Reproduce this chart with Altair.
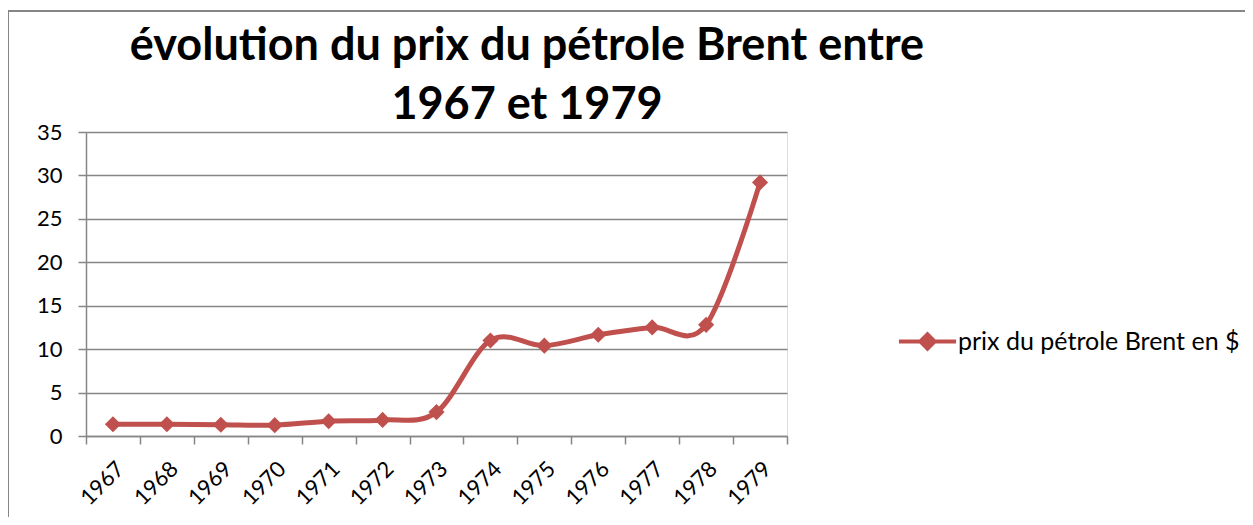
import altair as alt
import pandas as pd

years = ["1967", "1968", "1969", "1970", "1971", "1972", "1973",
         "1974", "1975", "1976", "1977", "1978", "1979"]
prices = [1.35, 1.35, 1.3, 1.25, 1.7, 1.85, 2.75,
          11.0, 10.4, 11.65, 12.5, 12.8, 29.2]
series_name = "prix du pétrole Brent en $"
title_lines = ["évolution du prix du pétrole Brent entre", "1967 et 1979"]

RED = "#C0504D"
GRAY = "#868686"
FONT = "Lato"

df = pd.DataFrame({"year": years, "price": prices, "serie": [series_name] * len(years)})

W, H = 701, 304
PAD_L, PAD_T, PAD_R, PAD_B = 78, 124, 458, 81

x_enc = alt.X("year:O", sort=years, title=None,
              scale=alt.Scale(type="band", paddingInner=0, paddingOuter=0),
              axis=alt.Axis(labelAngle=-45, labelFont=FONT, labelFontSize=22,
                            labelColor="#000000", tickBand="extent",
                            tickColor=GRAY, tickWidth=1.5, tickSize=8,
                            domainColor=GRAY, domainWidth=1.5, labelPadding=14,
                            grid=False))
y_enc = alt.Y("price:Q", title=None,
              scale=alt.Scale(domain=[0, 35], nice=False),
              axis=alt.Axis(values=[0, 5, 10, 15, 20, 25, 30, 35],
                            labelFont=FONT, labelFontSize=22, labelColor="#000000",
                            tickColor=GRAY, tickWidth=1.5, tickSize=8,
                            domainColor=GRAY, domainWidth=1.5, labelPadding=16,
                            grid=True, gridColor=GRAY, gridWidth=1.5))
color_enc = alt.Color("serie:N", title=None,
                      scale=alt.Scale(range=[RED]),
                      legend=alt.Legend(orient="none", legendX=813, legendY=181,
                                        labelFont=FONT, labelFontSize=25,
                                        labelColor="#000000", labelLimit=500,
                                        symbolType="M-1.08,0H1.08M-0.27,0L0,-0.27L0.27,0L0,0.27Z",
                                        symbolSize=2800, symbolStrokeWidth=4,
                                        symbolFillColor=RED, symbolStrokeColor=RED,
                                        labelOffset=2))

base = alt.Chart(df)
line = base.mark_line(interpolate="cardinal", tension=0, strokeWidth=5, color=RED).encode(
    x=x_enc, y=y_enc, color=color_enc)
pts = base.mark_point(shape="diamond", filled=True, size=260, opacity=1, color=RED).encode(
    x=x_enc, y=y_enc)

frame_df = pd.DataFrame({"k": [0]})
left_border = alt.Chart(frame_df).mark_rule(color=GRAY, strokeWidth=2, clip=False).encode(
    x=alt.value(-78), y=alt.value(-121), y2=alt.value(H + PAD_B))
top_border = alt.Chart(frame_df).mark_rule(color=GRAY, strokeWidth=2, clip=False).encode(
    x=alt.value(-78), x2=alt.value(W + PAD_R), y=alt.value(-121))
title_text = alt.Chart(frame_df).mark_text(
    font=FONT, fontSize=45, fontWeight="bold", color="#000000",
    align="center", baseline="alphabetic", lineHeight=59).encode(
    x=alt.value(441), y=alt.value(-72), text=alt.value(title_lines))

chart = alt.layer(left_border, top_border, title_text, line, pts).properties(
    width=W, height=H,
    autosize=alt.AutoSizeParams(type="none"),
    padding={"left": PAD_L, "top": PAD_T, "right": PAD_R, "bottom": PAD_B},
).configure_view(stroke=None).configure(background="white")

chart.save("out.html", embed_options={"renderer": "svg", "actions": False})
